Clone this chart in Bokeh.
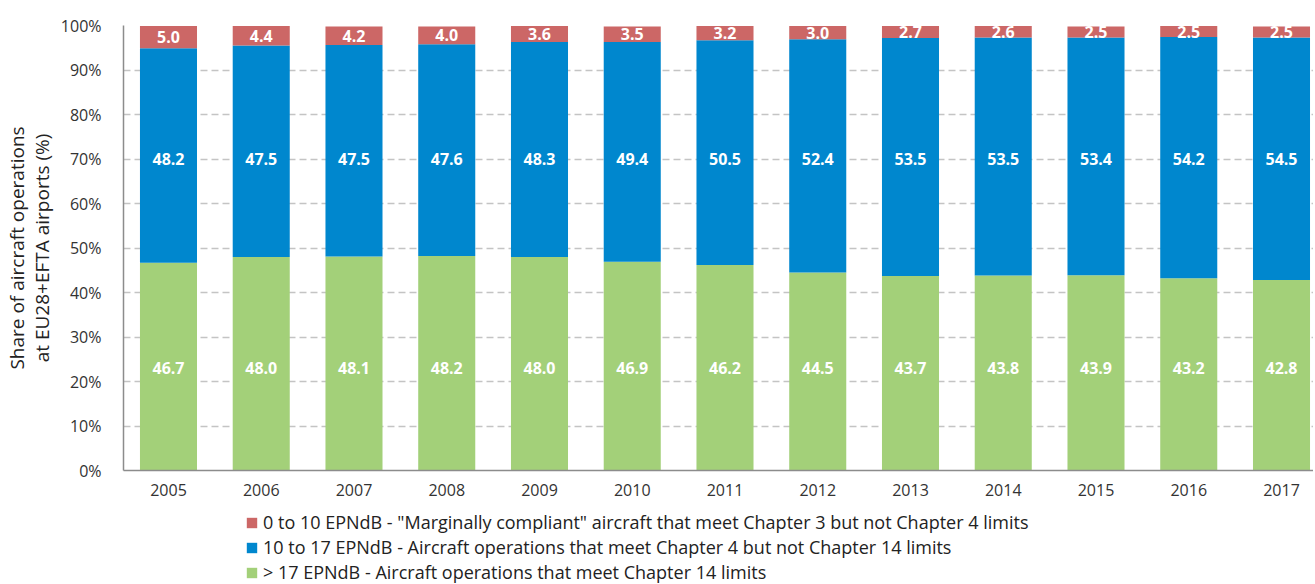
from bokeh.plotting import figure
from bokeh.layouts import column
from bokeh.models import (FixedTicker, PrintfTickFormatter, Legend, LegendItem,
                          ColumnDataSource, Range1d)
from bokeh.core.properties import value
from bokeh.embed import file_html
from bokeh.resources import INLINE

years = ["2005", "2006", "2007", "2008", "2009", "2010", "2011", "2012",
         "2013", "2014", "2015", "2016", "2017"]
green = [46.7, 48.0, 48.1, 48.2, 48.0, 46.9, 46.2, 44.5, 43.7, 43.8, 43.9, 43.2, 42.8]
blue = [48.2, 47.5, 47.5, 47.6, 48.3, 49.4, 50.5, 52.4, 53.5, 53.5, 53.4, 54.2, 54.5]
red = [5.0, 4.4, 4.2, 4.0, 3.6, 3.5, 3.2, 3.0, 2.7, 2.6, 2.5, 2.5, 2.5]
legend_labels = [
    '0 to 10 EPNdB - "Marginally compliant" aircraft that meet Chapter 3 but not Chapter 4 limits',
    '10 to 17 EPNdB - Aircraft operations that meet Chapter 4 but not Chapter 14 limits',
    '> 17 EPNdB - Aircraft operations that meet Chapter 14 limits',
]

C_RED = "#CC6766"
C_BLUE = "#0087CE"
C_GREEN = "#A3D079"
FONT = "Open Sans"
W = 1313

x = list(range(len(years)))
src = ColumnDataSource(dict(
    x=x, green=green, blue=blue, red=red,
    g_lab=[f"{v:.1f}" for v in green],
    b_lab=[f"{v:.1f}" for v in blue],
    r_lab=[f"{v:.1f}" for v in red],
    g_y=[23.0] * len(x),
    b_y=[70.0] * len(x),
    r_y=[g + b + r / 2 for g, b, r in zip(green, blue, red)],
))

p = figure(width=W, height=505, output_backend="svg", toolbar_location=None,
           x_range=Range1d(-0.485, 12.345), y_range=Range1d(0, 100),
           min_border_left=123, min_border_right=0, min_border_top=25,
           min_border_bottom=35)
p.outline_line_color = None

rs = p.vbar_stack(["green", "blue", "red"], x="x", width=0.615,
                  color=[C_GREEN, C_BLUE, C_RED], line_color=None, source=src)

for col, ycol in (("g_lab", "g_y"), ("b_lab", "b_y"), ("r_lab", "r_y")):
    p.text(x="x", y=ycol, text=col, source=src, text_color="white",
           text_font=value(FONT), text_font_style="bold", text_font_size="16px",
           text_align="center", text_baseline="middle")

# axes
p.yaxis.ticker = FixedTicker(ticks=list(range(0, 101, 10)))
p.yaxis.formatter = PrintfTickFormatter(format="%d%%")
p.xaxis.ticker = FixedTicker(ticks=x)
p.xaxis.major_label_overrides = {i: y for i, y in enumerate(years)}
for ax in (p.xaxis, p.yaxis):
    ax.major_tick_line_color = None
    ax.minor_tick_line_color = None
    ax.axis_line_color = "#8c8c8c"
    ax.axis_line_width = 1.5
    ax.major_label_text_font = FONT
    ax.major_label_text_font_size = "16px"
    ax.major_label_text_color = "#333333"
p.yaxis.major_label_standoff = 16
p.xaxis.major_label_standoff = 7
p.yaxis.axis_label = "Share of aircraft operations\nat EU28+EFTA airports (%)"
p.yaxis.axis_label_text_font = FONT
p.yaxis.axis_label_text_font_size = "19px"
p.yaxis.axis_label_text_font_style = "normal"
p.yaxis.axis_label_text_line_height = 0.95
p.yaxis.axis_label_text_color = "#222222"
p.yaxis.axis_label_standoff = 3

p.xgrid.grid_line_color = None
p.ygrid.grid_line_color = "#c4c4c4"
p.ygrid.grid_line_dash = "7 4"
p.ygrid.grid_line_width = 1.5

# legend panel below the chart (its frame is aligned with the chart's frame)
lg = figure(width=W, height=79, output_backend="svg", toolbar_location=None,
            x_range=Range1d(0, 1), y_range=Range1d(0, 1),
            x_axis_type=None, y_axis_type=None,
            min_border_left=0, min_border_right=0, min_border_top=0,
            min_border_bottom=0)
lg.outline_line_color = None
lg.grid.grid_line_color = None
offscreen = ColumnDataSource(dict(x=[-10], top=[-10]))
dummies = [lg.vbar(x="x", top="top", width=0.5, color=c, line_color=None, source=offscreen)
           for c in (C_RED, C_BLUE, C_GREEN)]
items = [LegendItem(label=lab, renderers=[r]) for lab, r in zip(legend_labels, dummies)]
legend = Legend(items=items, orientation="vertical", location=(122, 0),
                border_line_color=None, background_fill_alpha=0,
                label_text_font=FONT, label_text_font_size="18px",
                label_text_color="#222222", glyph_width=13, glyph_height=13,
                label_height=21, spacing=1, label_standoff=5, padding=0, margin=0)
lg.add_layout(legend, "center")

layout = column(p, lg, spacing=0)
open("out.html", "w").write(file_html(layout, INLINE))
